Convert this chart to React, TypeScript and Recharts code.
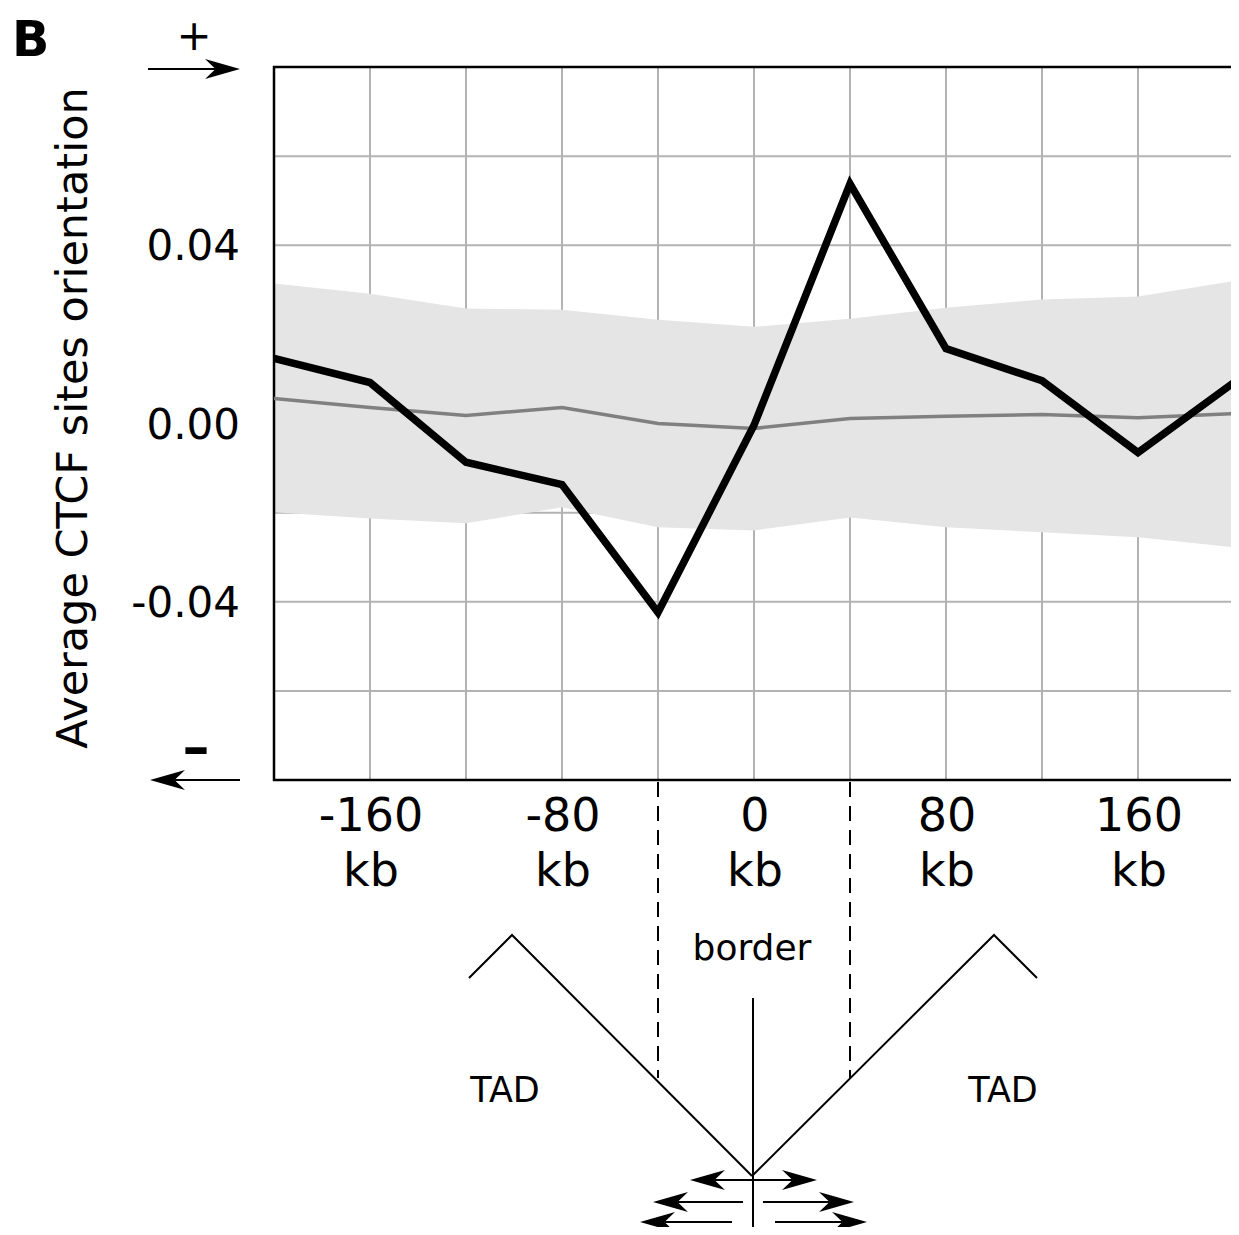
import { ComposedChart, Area, Line, XAxis, YAxis, CartesianGrid, ReferenceArea } from "recharts"

// distance from the TAD border, kb
const positions = [-200, -160, -120, -80, -40, 0, 40, 80, 120, 160, 200]
const observed = [0.0146, 0.0092, -0.0087, -0.0137, -0.0424, -0.0004, 0.0538, 0.0168, 0.0096, -0.0065, 0.0092]
const shuffledMean = [0.0056, 0.0036, 0.0018, 0.0036, 0.0, -0.0011, 0.0011, 0.0016, 0.002, 0.0013, 0.0022]
const shuffledHigh = [0.0314, 0.0291, 0.0258, 0.0255, 0.0233, 0.0217, 0.0235, 0.026, 0.0278, 0.0285, 0.032]
const shuffledLow = [-0.0199, -0.0213, -0.0224, -0.0188, -0.0233, -0.024, -0.0211, -0.0233, -0.0244, -0.0255, -0.0278]

const xTicks = [-200, -160, -120, -80, -40, 0, 40, 80, 120, 160, 200]
const xLabelled = [-160, -80, 0, 80, 160]
const yTicks = [-0.08, -0.06, -0.04, -0.02, 0, 0.02, 0.04, 0.06, 0.08]
const yLabels: Record<string, string> = { "-0.04": "-0.04", "0": "0.00", "0.04": "0.04" }

const data = positions.map((pos, i) => ({
  pos,
  observed: observed[i],
  mean: shuffledMean[i],
  band: [shuffledLow[i], shuffledHigh[i]],
}))

const FONT = "DejaVu Sans, sans-serif"

function XTick({ x, y, payload }: any) {
  if (!xLabelled.includes(payload.value)) return null
  return (
    <g>
      <text x={x + 1} y={y + 51} textAnchor="middle" fontSize={46} fontFamily={FONT} fill="#000">
        {payload.value}
      </text>
      <text x={x + 1} y={y + 106} textAnchor="middle" fontSize={46} fontFamily={FONT} fill="#000">
        kb
      </text>
    </g>
  )
}

function YTick({ x, y, payload }: any) {
  const key = String(Math.round(payload.value * 100) / 100)
  const label = yLabels[key]
  if (!label) return null
  return (
    <text x={x} y={y} dy={15} textAnchor="end" fontSize={42} fontFamily={FONT} fill="#000">
      {label}
    </text>
  )
}

function Arrow({ from, to, y, head = 35, half = 10 }: { from: number; to: number; y: number; head?: number; half?: number }) {
  const dir = to > from ? 1 : -1
  const back = to - dir * head
  const notch = to - dir * head * 0.7
  return (
    <g>
      <line x1={from} y1={y} x2={notch} y2={y} stroke="#000" strokeWidth={2} />
      <path d={`M${to},${y} L${back},${y - half} L${notch},${y} L${back},${y + half} Z`} fill="#000" />
    </g>
  )
}

function Annotations() {
  return (
    <svg width={1239} height={1235} style={{ position: "absolute", left: 0, top: 0, pointerEvents: "none" }}>
      <text x={12} y={56} fontSize={49} fontWeight="bold" fontFamily={FONT}>B</text>
      <text x={194} y={50} textAnchor="middle" fontSize={42} fontFamily={FONT}>+</text>
      <Arrow from={148} to={240} y={69} />
      <text x={196} y={765} textAnchor="middle" fontSize={54} fontWeight="bold" fontFamily={FONT}>–</text>
      <Arrow from={240} to={150} y={780} />
      <text x={72} y={418} textAnchor="middle" fontSize={43} fontFamily={FONT} transform="rotate(-90 72 418)" dy={15}>
        Average CTCF sites orientation
      </text>

      {/* border window */}
      <line x1={658} y1={782} x2={658} y2={1078} stroke="#000" strokeWidth={2} strokeDasharray="15 9" />
      <line x1={850} y1={782} x2={850} y2={1078} stroke="#000" strokeWidth={2} strokeDasharray="15 9" />
      <text x={752} y={960} textAnchor="middle" fontSize={36} fontFamily={FONT}>border</text>

      {/* TAD schematic */}
      <polyline points="469,978 512,935 752,1176" fill="none" stroke="#000" strokeWidth={2} />
      <polyline points="752,1176 994,935 1037,978" fill="none" stroke="#000" strokeWidth={2} />
      <line x1={753} y1={998} x2={753} y2={1235} stroke="#000" strokeWidth={2} />
      <text x={505} y={1102} textAnchor="middle" fontSize={35} fontFamily={FONT}>TAD</text>
      <text x={1003} y={1102} textAnchor="middle" fontSize={35} fontFamily={FONT}>TAD</text>

      {/* CTCF orientation arrows */}
      <Arrow from={753} to={690} y={1180} />
      <Arrow from={753} to={817} y={1180} />
      <Arrow from={743} to={653} y={1202} />
      <Arrow from={763} to={854} y={1202} />
      <Arrow from={732} to={640} y={1222} />
      <Arrow from={775} to={867} y={1222} />
    </svg>
  )
}

export default function App() {
  return (
    <div style={{ position: "relative", width: 1239, height: 1235, margin: -8, background: "#fff" }}>
      <ComposedChart
        width={1239}
        height={1235}
        data={data}
        margin={{ top: 67, right: 5, left: 174, bottom: 325 }}
      >
        <XAxis
          dataKey="pos"
          type="number"
          domain={[-200, 200]}
          ticks={xTicks}
          tick={<XTick />}
          tickLine={false}
          tickSize={0}
          tickMargin={0}
          axisLine={false}
          height={130}
          allowDataOverflow
        />
        <YAxis
          type="number"
          domain={[-0.08, 0.08]}
          ticks={yTicks}
          tick={<YTick />}
          tickLine={false}
          tickSize={0}
          tickMargin={34}
          axisLine={false}
          width={100}
          allowDataOverflow
        />
        <Area
          dataKey="band"
          type="linear"
          fill="#e5e5e5"
          fillOpacity={1}
          stroke="none"
          isAnimationActive={false}
          dot={false}
          activeDot={false}
        />
        <CartesianGrid stroke="#b3b3b3" strokeWidth={2} vertical horizontal />
        <Line
          dataKey="mean"
          type="linear"
          stroke="#808080"
          strokeWidth={3.5}
          dot={false}
          activeDot={false}
          isAnimationActive={false}
        />
        <Line
          dataKey="observed"
          type="linear"
          stroke="#000"
          strokeWidth={7.5}
          strokeLinejoin="miter"
          dot={false}
          activeDot={false}
          isAnimationActive={false}
        />
        <ReferenceArea x1={-200} x2={200} y1={-0.08} y2={0.08} fill="none" stroke="#000" strokeWidth={2.5} />
      </ComposedChart>
      <Annotations />
    </div>
  )
}
